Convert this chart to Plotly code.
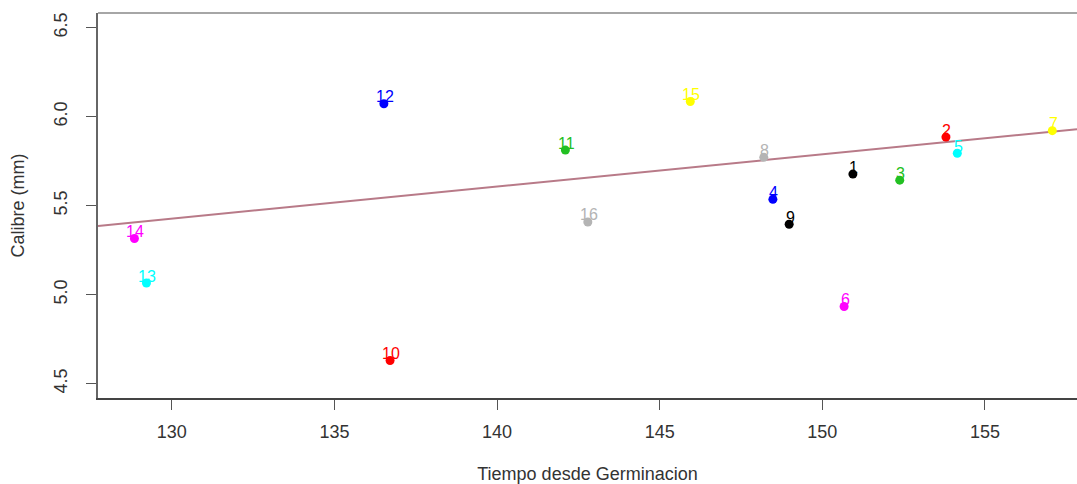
import plotly.graph_objects as go

# ---- data ----
ids = ["1", "2", "3", "4", "5", "6", "7", "8", "9", "10", "11", "12", "13", "14", "15", "16"]
tiempo = [150.94, 153.80, 152.38, 148.48, 154.15, 150.67, 157.07, 148.20,
          148.98, 136.71, 142.10, 136.52, 129.22, 128.85, 145.94, 142.79]
calibre = [5.677, 5.885, 5.643, 5.535, 5.794, 4.933, 5.921, 5.771,
           5.395, 4.629, 5.812, 6.072, 5.065, 5.315, 6.085, 5.408]
colores = ["#000000", "#ff0000", "#22c022", "#0000ff", "#00ffff", "#ff00ff", "#ffff00", "#b4b4b4",
           "#000000", "#ff0000", "#22c022", "#0000ff", "#00ffff", "#ff00ff", "#ffff00", "#b4b4b4"]
fit_x = [127.73, 157.83]
fit_y = [5.386, 5.929]
x_ticks = [130, 135, 140, 145, 150, 155]
y_ticks = [4.5, 5.0, 5.5, 6.0, 6.5]
y_tick_text = ["4.5", "5.0", "5.5", "6.0", "6.5"]
x_range = [127.73, 157.83]
y_range = [4.419, 6.582]

fig = go.Figure()
fig.add_trace(go.Scatter(x=fit_x, y=fit_y, mode="lines",
                         line=dict(color="#b87a88", width=2), hoverinfo="skip"))
fig.add_trace(go.Scatter(x=tiempo, y=calibre, mode="markers",
                         marker=dict(color=colores, size=9), text=ids))

for xi, yi, lab, c in zip(tiempo, calibre, ids, colores):
    fig.add_annotation(x=xi, y=yi, text=lab, showarrow=False, xshift=1, yshift=7,
                       font=dict(color=c, size=16, family="Liberation Sans"))

fig.add_shape(type="line", xref="paper", yref="paper", x0=0, x1=1, y0=1, y1=1,
              line=dict(color="#888888", width=1.5))

fig.update_layout(
    width=1077, height=484,
    margin=dict(l=98, r=0, t=13, b=86),
    plot_bgcolor="white", paper_bgcolor="white",
    showlegend=False,
    font=dict(family="Liberation Sans", size=18, color="#333333"),
)
fig.update_xaxes(range=x_range, tickvals=x_ticks, showgrid=False, zeroline=False,
                 automargin=False,
                 showline=True, linecolor="#444444", linewidth=2,
                 ticks="outside", ticklen=10, tickcolor="#555555", tickwidth=1,
                 ticklabelstandoff=6, tickfont=dict(size=18),
                 title=dict(text="Tiempo desde Germinacion", standoff=40, font=dict(size=18)))
fig.update_yaxes(range=y_range, tickvals=y_ticks, ticktext=y_tick_text,
                 showgrid=False, zeroline=False, automargin=False,
                 showline=True, linecolor="#666666", linewidth=2,
                 ticks="outside", ticklen=10, tickcolor="#555555", tickwidth=1,
                 tickangle=-90, ticklabelstandoff=12, tickfont=dict(size=18),
                 title=dict(text="Calibre (mm)", standoff=21, font=dict(size=18)))

fig.write_html("out.html", config={"displayModeBar": False},
               post_script="document.body.style.margin='0';document.body.style.overflow='hidden';")
